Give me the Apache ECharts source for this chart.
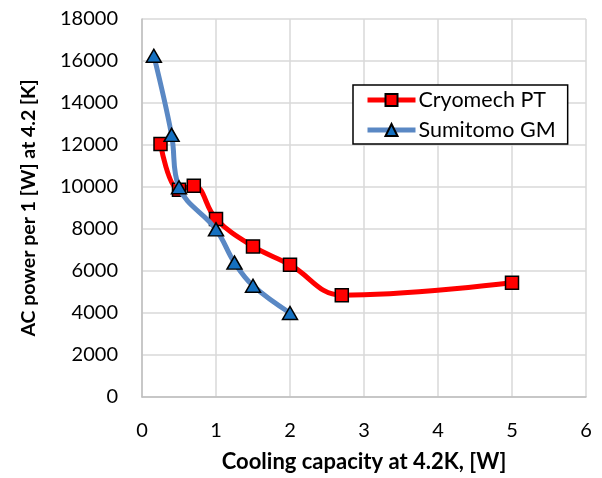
<!DOCTYPE html>
<html><head><meta charset="utf-8">
<script src="https://cdn.jsdelivr.net/npm/echarts@6/dist/echarts.min.js"></script>
<style>html,body{margin:0;padding:0;background:#fff}#c{width:602px;height:478px}</style>
</head><body><div id="c"></div>
<script>
const cryoX = [0.25, 0.5, 0.7, 1.0, 1.5, 2.0, 2.7, 5.0];
const cryoY = [12050, 9870, 10060, 8480, 7170, 6300, 4850, 5440];
const sumiX = [0.16, 0.4, 0.5, 1.0, 1.25, 1.5, 2.0];
const sumiY = [16250, 12480, 9990, 7980, 6400, 5300, 4000];
const seriesNames = ['Cryomech PT', 'Sumitomo GM'];
const xTitle = 'Cooling capacity at 4.2K, [W]';
const yTitle = 'AC power per 1 [W] at 4.2 [K]';

const FONT = 'Lato';
const chart = echarts.init(document.getElementById('c'));
chart.setOption({
  animation: false,
  backgroundColor: '#fff',
  textStyle: {fontFamily: FONT},
  grid: {left: 142, right: 16, top: 19, bottom: 79, containLabel: false},
  legend: {
    left: 353, top: 85, orient: 'vertical',
    backgroundColor: '#fff', borderColor: '#000', borderWidth: 1.5,
    padding: [4, 12, 3, 12], itemGap: 8, itemWidth: 48, itemHeight: 15,
    lineStyle: {width: 5},
    textStyle: {fontFamily: FONT, fontSize: 21.5, color: '#000', padding: [0, 0, 0, -2]},
    data: seriesNames
  },
  xAxis: {
    type: 'value', min: 0, max: 6, interval: 1,
    name: xTitle, nameLocation: 'middle', nameGap: 54,
    nameTextStyle: {fontFamily: FONT, fontSize: 22, fontWeight: 'bold', color: '#000'},
    axisLine: {show: true, lineStyle: {color: '#BFBFBF', width: 1.5}},
    axisTick: {show: false},
    axisLabel: {fontSize: 20, color: '#000', margin: 24, formatter: v => String(v)},
    splitLine: {show: true, lineStyle: {color: '#D9D9D9', width: 1.5}}
  },
  yAxis: {
    type: 'value', min: 0, max: 18000, interval: 2000,
    name: yTitle, nameLocation: 'middle', nameGap: 103,
    nameTextStyle: {fontFamily: FONT, fontSize: 19.5, fontWeight: 'bold', color: '#000'},
    axisLine: {show: true, lineStyle: {color: '#BFBFBF', width: 1.5}},
    axisTick: {show: false},
    axisLabel: {fontSize: 20, color: '#000', margin: 24, formatter: v => String(v)},
    splitLine: {show: true, lineStyle: {color: '#D9D9D9', width: 1.5}}
  },
  series: [
    {
      name: seriesNames[0], type: 'line', smooth: 0.4,
      data: cryoX.map((x, i) => [x, cryoY[i]]),
      lineStyle: {color: '#FF0000', width: 5},
      itemStyle: {color: '#FF0000', borderColor: '#000', borderWidth: 1.5},
      symbol: 'rect', symbolSize: 13, z: 3
    },
    {
      name: seriesNames[1], type: 'line', smooth: 0.4,
      data: sumiX.map((x, i) => [x, sumiY[i]]),
      lineStyle: {color: '#5A88C4', width: 5},
      itemStyle: {color: '#1570C0', borderColor: '#000', borderWidth: 1.5},
      symbol: 'triangle', symbolSize: [15, 13], z: 4
    }
  ]
});
</script></body></html>
